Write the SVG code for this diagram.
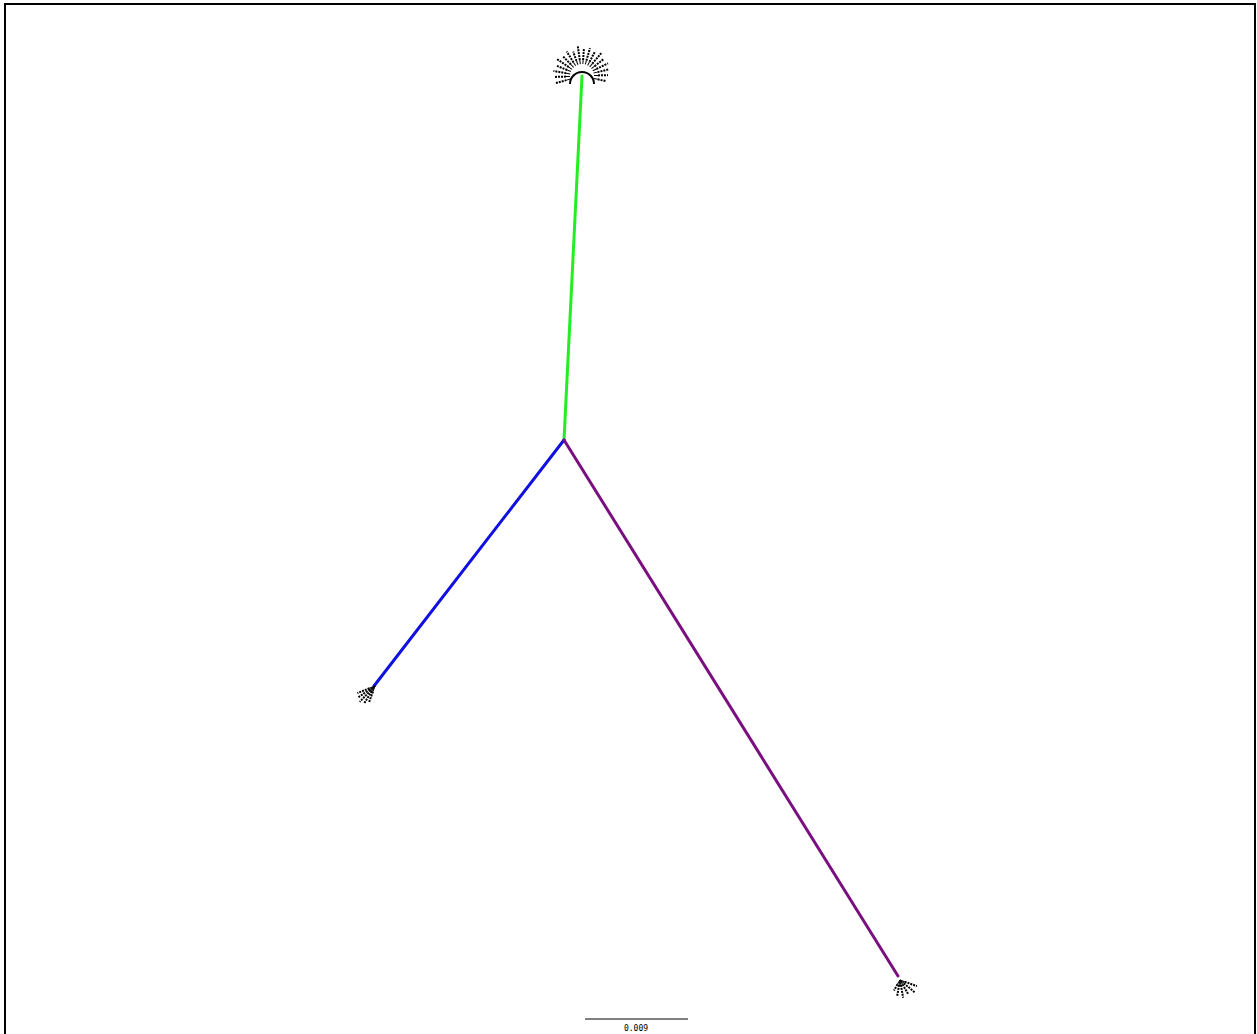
<svg xmlns="http://www.w3.org/2000/svg" width="1257" height="1034" viewBox="0 0 1257 1034">
<style>
.edge{fill:none;stroke-width:3;stroke-linecap:round}
.tip{stroke:#000;stroke-width:1}
.lab{stroke:#000;stroke-width:2;stroke-dasharray:2 1}
.scale{font-family:"DejaVu Sans Mono","Liberation Mono",monospace;font-size:8px;fill:#000}
</style>
<rect x="0" y="0" width="1257" height="1034" fill="#fff"/>
<rect x="5" y="4" width="1250" height="1040" fill="none" stroke="#000" stroke-width="2"/>
<g id="connectors">
<line class="edge" x1="564" y1="440" x2="582" y2="76" stroke="#22ee22"/>
<line class="edge" x1="564" y1="440" x2="374" y2="686" stroke="#1010e0"/>
<line class="edge" x1="564" y1="440" x2="898" y2="976" stroke="#7a1080"/>
</g>
<g id="node-green" transform="translate(582,76)">
<path d="M-12,8 A12,12 0 0 1 12,8" fill="none" stroke="#000" stroke-width="2"/>
<g>
<line class="tip" x1="12" y1="0" x2="16" y2="0" transform="rotate(-195)"/><line class="lab" x1="16" y1="0" x2="27" y2="0" transform="rotate(-195)"/>
<line class="tip" x1="12" y1="0" x2="16" y2="0" transform="rotate(-182)"/><line class="lab" x1="16" y1="0" x2="28" y2="0" transform="rotate(-182)"/>
<line class="tip" x1="12" y1="0" x2="16" y2="0" transform="rotate(-170)"/><line class="lab" x1="16" y1="0" x2="29" y2="0" transform="rotate(-170)"/>
<line class="tip" x1="12" y1="0" x2="16" y2="0" transform="rotate(-158)"/><line class="lab" x1="16" y1="0" x2="27" y2="0" transform="rotate(-158)"/>
<line class="tip" x1="12" y1="0" x2="16" y2="0" transform="rotate(-146)"/><line class="lab" x1="16" y1="0" x2="30" y2="0" transform="rotate(-146)"/>
<line class="tip" x1="12" y1="0" x2="16" y2="0" transform="rotate(-134)"/><line class="lab" x1="16" y1="0" x2="28" y2="0" transform="rotate(-134)"/>
<line class="tip" x1="12" y1="0" x2="16" y2="0" transform="rotate(-122)"/><line class="lab" x1="16" y1="0" x2="29" y2="0" transform="rotate(-122)"/>
<line class="tip" x1="12" y1="0" x2="16" y2="0" transform="rotate(-110)"/><line class="lab" x1="16" y1="0" x2="26" y2="0" transform="rotate(-110)"/>
<line class="tip" x1="12" y1="0" x2="16" y2="0" transform="rotate(-98)"/><line class="lab" x1="16" y1="0" x2="30" y2="0" transform="rotate(-98)"/>
<line class="tip" x1="12" y1="0" x2="16" y2="0" transform="rotate(-86)"/><line class="lab" x1="16" y1="0" x2="28" y2="0" transform="rotate(-86)"/>
<line class="tip" x1="12" y1="0" x2="16" y2="0" transform="rotate(-74)"/><line class="lab" x1="16" y1="0" x2="29" y2="0" transform="rotate(-74)"/>
<line class="tip" x1="12" y1="0" x2="16" y2="0" transform="rotate(-62)"/><line class="lab" x1="16" y1="0" x2="27" y2="0" transform="rotate(-62)"/>
<line class="tip" x1="12" y1="0" x2="16" y2="0" transform="rotate(-50)"/><line class="lab" x1="16" y1="0" x2="30" y2="0" transform="rotate(-50)"/>
<line class="tip" x1="12" y1="0" x2="16" y2="0" transform="rotate(-38)"/><line class="lab" x1="16" y1="0" x2="28" y2="0" transform="rotate(-38)"/>
<line class="tip" x1="12" y1="0" x2="16" y2="0" transform="rotate(-26)"/><line class="lab" x1="16" y1="0" x2="29" y2="0" transform="rotate(-26)"/>
<line class="tip" x1="12" y1="0" x2="16" y2="0" transform="rotate(-14)"/><line class="lab" x1="16" y1="0" x2="27" y2="0" transform="rotate(-14)"/>
<line class="tip" x1="12" y1="0" x2="16" y2="0" transform="rotate(-2)"/><line class="lab" x1="16" y1="0" x2="26" y2="0" transform="rotate(-2)"/>
<line class="tip" x1="12" y1="0" x2="16" y2="0" transform="rotate(12)"/><line class="lab" x1="16" y1="0" x2="25" y2="0" transform="rotate(12)"/>
</g>
</g>
<g id="node-blue" transform="translate(375,686)">
<line class="tip" x1="0" y1="0" x2="6" y2="0" transform="rotate(110)"/><line class="lab" x1="6" y1="0" x2="18" y2="0" transform="rotate(110)"/>
<line class="tip" x1="0" y1="0" x2="6" y2="0" transform="rotate(122)"/><line class="lab" x1="6" y1="0" x2="20" y2="0" transform="rotate(122)"/>
<line class="tip" x1="0" y1="0" x2="6" y2="0" transform="rotate(134)"/><line class="lab" x1="6" y1="0" x2="22" y2="0" transform="rotate(134)"/>
<line class="tip" x1="0" y1="0" x2="6" y2="0" transform="rotate(146)"/><line class="lab" x1="6" y1="0" x2="21" y2="0" transform="rotate(146)"/>
<line class="tip" x1="0" y1="0" x2="6" y2="0" transform="rotate(158)"/><line class="lab" x1="6" y1="0" x2="19" y2="0" transform="rotate(158)"/>
</g>
<g id="node-purple" transform="translate(900,980)">
<line class="tip" x1="0" y1="0" x2="5" y2="0" transform="rotate(20)"/><line class="lab" x1="5" y1="0" x2="18" y2="0" transform="rotate(20)"/>
<line class="tip" x1="0" y1="0" x2="5" y2="0" transform="rotate(40)"/><line class="lab" x1="5" y1="0" x2="19" y2="0" transform="rotate(40)"/>
<line class="tip" x1="0" y1="0" x2="5" y2="0" transform="rotate(60)"/><line class="lab" x1="5" y1="0" x2="17" y2="0" transform="rotate(60)"/>
<line class="tip" x1="0" y1="0" x2="5" y2="0" transform="rotate(80)"/><line class="lab" x1="5" y1="0" x2="18" y2="0" transform="rotate(80)"/>
<line class="tip" x1="0" y1="0" x2="5" y2="0" transform="rotate(100)"/><line class="lab" x1="5" y1="0" x2="16" y2="0" transform="rotate(100)"/>
<line class="tip" x1="0" y1="0" x2="5" y2="0" transform="rotate(120)"/><line class="lab" x1="5" y1="0" x2="12" y2="0" transform="rotate(120)"/>
</g>
<g id="scale-bar">
<line x1="585" y1="1019" x2="688" y2="1019" stroke="#000" stroke-width="1"/>
<text class="scale" x="636" y="1031" text-anchor="middle">0.009</text>
</g>
</svg>
